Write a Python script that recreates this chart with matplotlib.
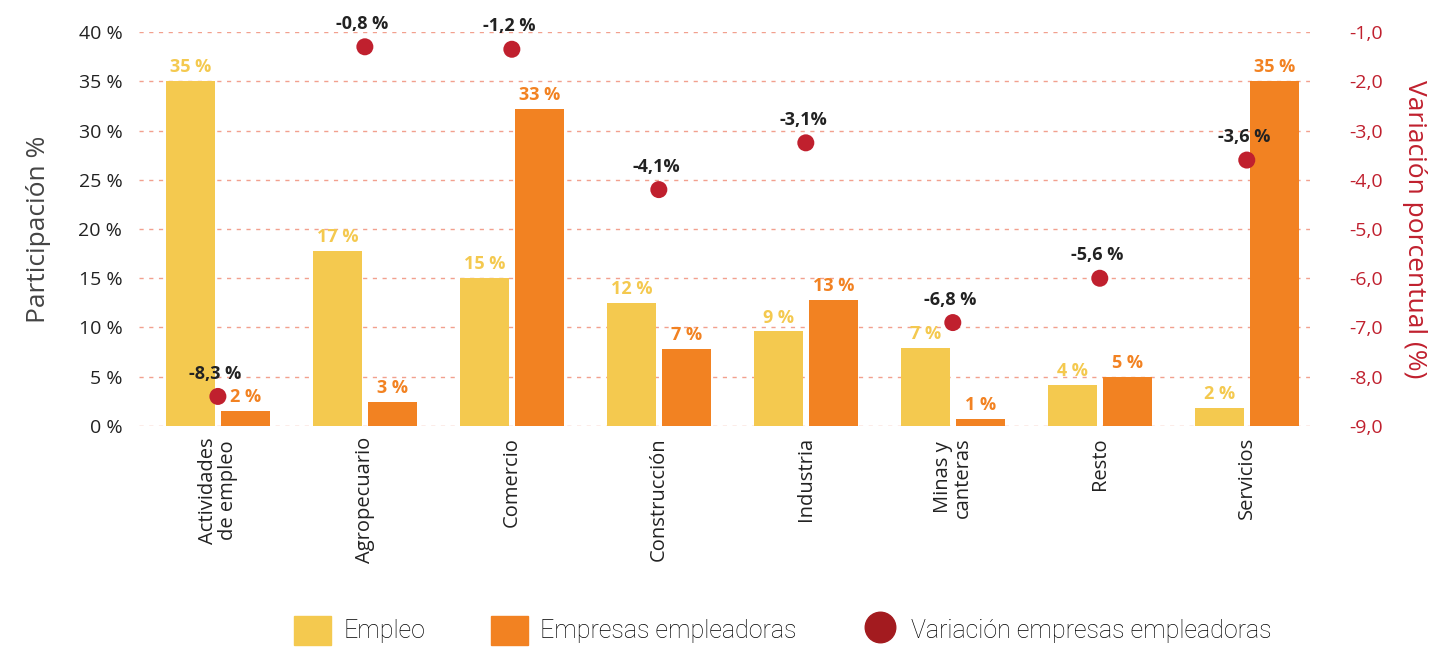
import matplotlib.pyplot as plt
from matplotlib.patches import Patch
from matplotlib.lines import Line2D
import numpy as np

plt.rcParams['font.family'] = ['Open Sans', 'DejaVu Sans']

categorias = ["Actividades\nde empleo", "Agropecuario", "Comercio", "Construcción",
              "Industria", "Minas y\ncanteras", "Resto", "Servicios"]
empleo = [35.0, 17.8, 15.0, 12.5, 9.6, 7.9, 4.2, 1.8]
empleo_lbl = ["35 %", "17 %", "15 %", "12 %", "9 %", "7 %", "4 %", "2 %"]
empresas = [1.5, 2.4, 32.2, 7.8, 12.8, 0.7, 5.0, 35.0]
empresas_lbl = ["2 %", "3 %", "33 %", "7 %", "13 %", "1 %", "5 %", "35 %"]
# dots as drawn in the picture, read on the right axis
variacion = [-8.4, -1.3, -1.35, -4.2, -3.25, -6.9, -6.0, -3.6]
variacion_lbl = ["-8,3 %", "-0,8 %", "-1,2 %", "-4,1%", "-3,1%", "-6,8 %", "-5,6 %", "-3,6 %"]

c_emp = "#F4C94F"
c_empr = "#F28222"
c_var = "#C0202E"
c_grid = "#F2A08E"

fig = plt.figure(figsize=(14.37, 6.47), dpi=100)
ax = fig.add_axes([0.0967, 0.3416, 0.8149, 0.6089])
x = np.arange(len(categorias))
w = 0.333
ax.bar(x - 0.0205 - w/2, empleo, w, color=c_emp, zorder=2)
ax.bar(x + 0.0205 + w/2, empresas, w, color=c_empr, zorder=2)

for i in range(len(x)):
    ax.text(x[i] - 0.0205 - w/2, empleo[i] + 0.5, empleo_lbl[i], ha='center', va='bottom',
            color=c_emp, fontsize=13, fontweight='bold')
    ax.text(x[i] + 0.0205 + w/2, empresas[i] + 0.5, empresas_lbl[i], ha='center', va='bottom',
            color=c_empr, fontsize=13, fontweight='bold')

ax.set_xlim(-0.537, 7.43)
ax.set_ylim(0, 40)
ax.set_yticks(range(0, 41, 5))
ax.set_yticklabels([f"{v} %" for v in range(0, 41, 5)], fontsize=14, color="#222222")
ax.set_xticks(x)
ax.set_xticklabels(categorias, rotation=90, fontsize=14.5, color="#222222", va='top', ha='center',
                   linespacing=0.95)
ax.tick_params(length=0, pad=8)
ax.tick_params(axis='y', pad=12)
for s in ax.spines.values():
    s.set_visible(False)
ax.grid(axis='y', color=c_grid, linestyle=(0, (3, 4)), linewidth=1.0, zorder=0)
ax.set_ylabel("Participación %", fontsize=19, color="#444444", labelpad=20)

ax2 = ax.twinx()
ax2.set_ylim(-9, -1)
ax2.set_yticks(np.arange(-9, 0, 1.0))
ax2.set_yticklabels([f"{v:.1f}".replace(".", ",") for v in np.arange(-9, 0, 1.0)],
                    fontsize=14, color=c_var)
ax2.tick_params(length=0, pad=28)
for s in ax2.spines.values():
    s.set_visible(False)
ax2.scatter(x, variacion, s=150, color=c_var, zorder=5, clip_on=False, edgecolors='none')
for i in range(len(x)):
    ax2.annotate(variacion_lbl[i], (x[i], variacion[i]), xytext=(-2, 10), textcoords='offset points',
                 ha='center', va='bottom', fontsize=13, fontweight='bold', color="#222222",
                 annotation_clip=False)
ax2.set_ylabel("Variación porcentual (%)", fontsize=19, color=c_var, rotation=270, labelpad=32)

handles = [Patch(color=c_emp), Patch(color=c_empr),
           Line2D([], [], marker='o', linestyle='none', markersize=22, color="#A31B1F")]
fig.legend(handles, ["Empleo", "Empresas empleadoras", "Variación empresas empleadoras"],
           loc='center', bbox_to_anchor=(0.545, 0.026), ncol=3, frameon=False,
           handlelength=1.48, handleheight=1.4, columnspacing=2.6,
           handletextpad=0.5, prop={'family': 'Roboto', 'weight': 'light', 'size': 18})

fig.savefig("out.png", dpi=100)
